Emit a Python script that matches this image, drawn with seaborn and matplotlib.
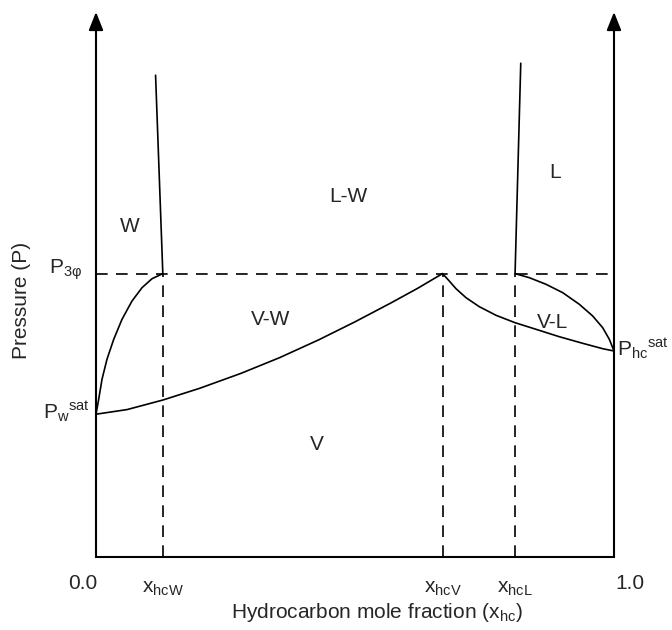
import matplotlib
matplotlib.use("Agg")
import matplotlib.pyplot as plt
import seaborn as sns
import pandas as pd

# ---- data ----
x_tick_names = ["x$_{\\mathregular{hcW}}$", "x$_{\\mathregular{hcV}}$", "x$_{\\mathregular{hcL}}$"]
x_tick_vals = [0.129, 0.669, 0.809]
P_3phase = 0.52
P_w_sat = 0.262
P_hc_sat = 0.378

# W bubble branch (water-rich liquid boundary)
wl_x = [0.0, 0.0052, 0.0116, 0.0212, 0.0342, 0.0502, 0.0695, 0.0888, 0.1081, 0.129]
wl_y = [0.262, 0.2894, 0.3261, 0.3628, 0.3994, 0.4361, 0.4697, 0.4941, 0.5106, 0.52]
# V-W dew branch
vw_x = [0.0, 0.06, 0.129, 0.2, 0.28, 0.355, 0.43, 0.5, 0.57, 0.62, 0.669]
vw_y = [0.262, 0.2705, 0.288, 0.3095, 0.337, 0.366, 0.3985, 0.4315, 0.4665, 0.4925, 0.52]
# V-L dew branch
vl_x = [0.669, 0.682, 0.695, 0.7143, 0.740, 0.7722, 0.809, 0.8494, 0.8944, 0.9396, 0.9782, 1.0]
vl_y = [0.52, 0.5064, 0.4923, 0.4758, 0.4593, 0.4435, 0.4299, 0.4178, 0.4042, 0.3921, 0.3822, 0.378]
# V-L bubble branch
lb_x = [0.809, 0.8365, 0.8687, 0.901, 0.933, 0.9589, 0.9782, 0.991, 1.0]
lb_y = [0.52, 0.5125, 0.5004, 0.485, 0.4637, 0.4422, 0.4207, 0.3994, 0.378]
# L-W solubility lines
wline_x = [0.129, 0.115]
wline_y = [0.52, 0.884]
lline_x = [0.809, 0.820]
lline_y = [0.52, 0.906]

region_names = ["W", "L-W", "L", "V-W", "V-L", "V"]
region_x = [0.066, 0.488, 0.886, 0.3365, 0.882, 0.427]
region_y = [0.606, 0.662, 0.706, 0.435, 0.431, 0.207]

# ---- style ----
sns.set_theme(style="white")
plt.rcParams["font.family"] = ["Liberation Sans", "DejaVu Sans"]
plt.rcParams["mathtext.fontset"] = "custom"
plt.rcParams["mathtext.rm"] = "Liberation Sans"
plt.rcParams["mathtext.it"] = "Liberation Sans"
plt.rcParams["mathtext.bf"] = "Liberation Sans"

FS = 15
fig = plt.figure(figsize=(6.72, 6.3), dpi=100)
ax = fig.add_axes([96 / 672, 73 / 630, 518 / 672, 545 / 630])
ax.set_xlim(0, 1)
ax.set_ylim(0, 1)

curve_lw = 1.2
curves = [(wl_x, wl_y), (vw_x, vw_y), (vl_x, vl_y), (lb_x, lb_y),
          (wline_x, wline_y), (lline_x, lline_y)]
for cx, cy in curves:
    df = pd.DataFrame({"x": cx, "y": cy})
    sns.lineplot(data=df, x="x", y="y", sort=False, estimator=None,
                 color="black", lw=curve_lw, ax=ax)
for ln in ax.get_lines():
    ln.set_solid_joinstyle("round")

dash = dict(color="black", lw=1.2, dashes=(7, 5))
ax.plot([0, 1], [P_3phase, P_3phase], **dash)
for xv in x_tick_vals:
    ax.plot([xv, xv], [0, P_3phase], **dash)

# axes: bottom spine + arrowed verticals
for s in ["left", "right", "top"]:
    ax.spines[s].set_visible(False)
ax.spines["bottom"].set_linewidth(1.5)
ax.spines["bottom"].set_color("black")
for xa in (0, 1):
    ax.annotate("", xy=(xa, 1.0), xytext=(xa, 0.0), xycoords="axes fraction",
                textcoords="axes fraction",
                arrowprops=dict(arrowstyle="-|>,head_length=0.55,head_width=0.22",
                                lw=1.5, color="black", shrinkA=0, shrinkB=0,
                                mutation_scale=20))

ax.set_xticks(x_tick_vals)
ax.set_xticklabels(x_tick_names, fontsize=FS)
ax.set_yticks([])
ax.tick_params(axis="x", length=0, pad=16)
ax.set_xlabel("")
ax.set_ylabel("")
ax.text(-0.025, -0.049, "0.0", fontsize=FS, ha="center", va="center", transform=ax.transAxes)
ax.text(1.03, -0.049, "1.0", fontsize=FS, ha="center", va="center", transform=ax.transAxes)

for name, rx, ry in zip(region_names, region_x, region_y):
    ax.text(rx, ry, name, fontsize=FS, ha="center", va="center")

ax.text(-0.027, P_3phase + 0.007, "P$_{\\mathregular{3\u03c6}}$", fontsize=FS,
        ha="right", va="center", clip_on=False)
ax.text(-0.012, P_w_sat + 0.005, "P$_{\\mathregular{w}}$$^{\\mathregular{sat}}$", fontsize=FS,
        ha="right", va="center", clip_on=False)
ax.text(1.106, P_hc_sat + 0.005, "P$_{\\mathregular{hc}}$$^{\\mathregular{sat}}$", fontsize=FS,
        ha="right", va="center", clip_on=False)

fig.text(377 / 672, 1 - 612 / 630, "Hydrocarbon mole fraction (x$_{\\mathregular{hc}}$)",
         fontsize=FS, ha="center", va="center")
fig.text(22 / 672, 1 - 300 / 630, "Pressure (P)", fontsize=FS, ha="center",
         va="center", rotation=90)

fig.savefig("out.png", dpi=100)
